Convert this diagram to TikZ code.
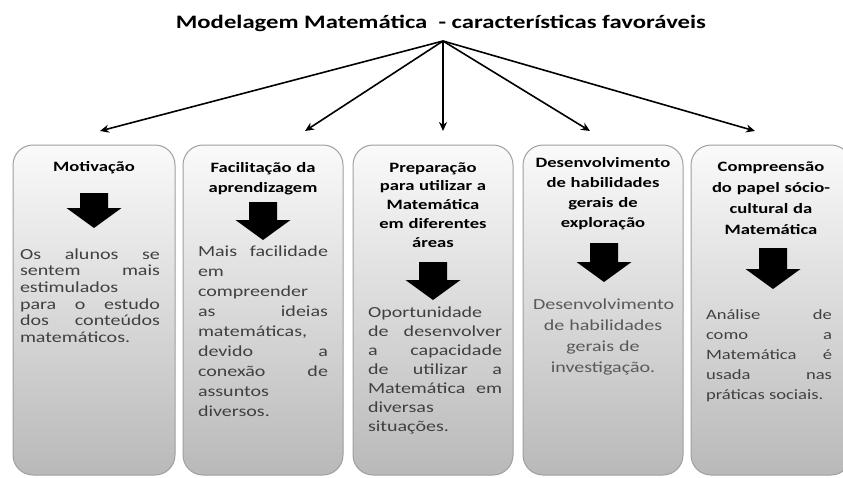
\documentclass[tikz,border=0pt]{standalone}
\usepackage{fontspec}
\setmainfont{Carlito}[FakeStretch=1.3]
\usepackage{tikz}
\usetikzlibrary{arrows.meta}
\hbadness=10000
\hyphenpenalty=10000
\exhyphenpenalty=10000
\tikzstyle{panel} = [rectangle, rounded corners=20pt, minimum width=160pt, minimum height=330pt, draw=gray!75, line width=1pt, top color=gray!4, bottom color=gray!55, inner sep=0pt]
\tikzstyle{heading} = [text width=150pt, align=center, inner sep=0pt, anchor=base]
\tikzstyle{bodytext} = [inner sep=0pt, anchor=base, align=justify, text=black!75]
\tikzstyle{blockarrow} = [fill=black]
\tikzstyle{arrow} = [line width=1.6pt, -{Stealth[length=9pt, width=8pt]}]
% big down arrow: x, top, shaft length
\newcommand{\bigarrow}[3]{\fill [blockarrow] (#1,#2) ++(-14,0) -- ++(28,0) -- ++(0,#3) -- ++(13.5,0) -- ++(-27.5,20) -- ++(-27.5,-20) -- ++(13.5,0) -- cycle;}

\begin{document}
\begin{tikzpicture}[x=1pt, y=-1pt]
\useasboundingbox (0,0) rectangle (843,477);

% Title
\node (title) [anchor=base, font=\bfseries\fontsize{19}{23}\selectfont] at (441,28) {Modelagem Matemática \ - características favoráveis};
\coordinate (hub) at (443,41);

% Panels
\node (motiv) [panel, minimum width=162pt] at (94,310) {};
\node (facil) [panel] at (263,310) {};
\node (prep) [panel] at (433,310) {};
\node (desenv) [panel] at (603,310) {};
\node (compr) [panel] at (771,310) {};

% Headings
\node (motivhead) [heading, font=\bfseries\fontsize{14.3}{20}\selectfont] at (94,171) {Motivação};
\node (facilhead) [heading, font=\bfseries\fontsize{14.3}{20}\selectfont] at (263,172) {Facilitação da\\aprendizagem};
\node (prephead) [heading, font=\bfseries\fontsize{14.3}{18.75}\selectfont] at (433,172) {Preparação\\para utilizar a\\Matemática\\em diferentes\\áreas};
\node (desenvhead) [heading, font=\bfseries\fontsize{14.3}{20}\selectfont] at (603,167) {Desenvolvimento\\de habilidades\\gerais de\\exploração};
\node (comprhead) [heading, font=\bfseries\fontsize{14.3}{21}\selectfont] at (771,171) {Compreensão\\do papel sócio-\\cultural da\\Matemática};

% Block arrows
\bigarrow{94}{193}{15}
\bigarrow{263}{202}{18}
\bigarrow{433}{262}{18}
\bigarrow{604}{243}{19}
\bigarrow{773}{248}{21}

% Texts
\node (motivtext) [bodytext, text width=140pt, font=\fontsize{15.4}{16.7}\selectfont] at (90,259) {Os alunos se\linebreak sentem mais\linebreak estimulados\linebreak para o estudo\linebreak dos conteúdos\linebreak matemáticos.};
\node (faciltext) [bodytext, text width=130pt, font=\fontsize{15.4}{20}\selectfont] at (263,256) {Mais facilidade\linebreak em\linebreak compreender\linebreak as ideias\linebreak matemáticas,\linebreak devido a\linebreak conexão de\linebreak assuntos\linebreak diversos.};
\node (preptext) [bodytext, text width=134pt, font=\fontsize{15.4}{19}\selectfont] at (435,317) {Oportunidade\linebreak de desenvolver\linebreak a capacidade\linebreak de utilizar a\linebreak Matemática em\linebreak diversas\linebreak situações.};
\node (desenvtext) [bodytext, text width=140pt, align=center, text=black!65, font=\fontsize{15.4}{21}\selectfont] at (603,309) {Desenvolvimento\\de habilidades\\gerais de\\investigação.};
\node (comprtext) [bodytext, text width=126pt, font=\fontsize{14.3}{20}\selectfont] at (769,319) {Análise de\linebreak como a\linebreak Matemática é\linebreak usada nas\linebreak práticas sociais.};

% Connectors
\coordinate (motivtip) at (100,131);
\coordinate (faciltip) at (305,131);
\coordinate (preptip) at (443,131);
\coordinate (desenvtip) at (590,131);
\coordinate (comprtip) at (755,131);
\draw [arrow] (hub) -- (motivtip);
\draw [arrow] (hub) -- (faciltip);
\draw [arrow] (hub) -- (preptip);
\draw [arrow] (hub) -- (desenvtip);
\draw [arrow] (hub) -- (comprtip);

\end{tikzpicture}
\end{document}
